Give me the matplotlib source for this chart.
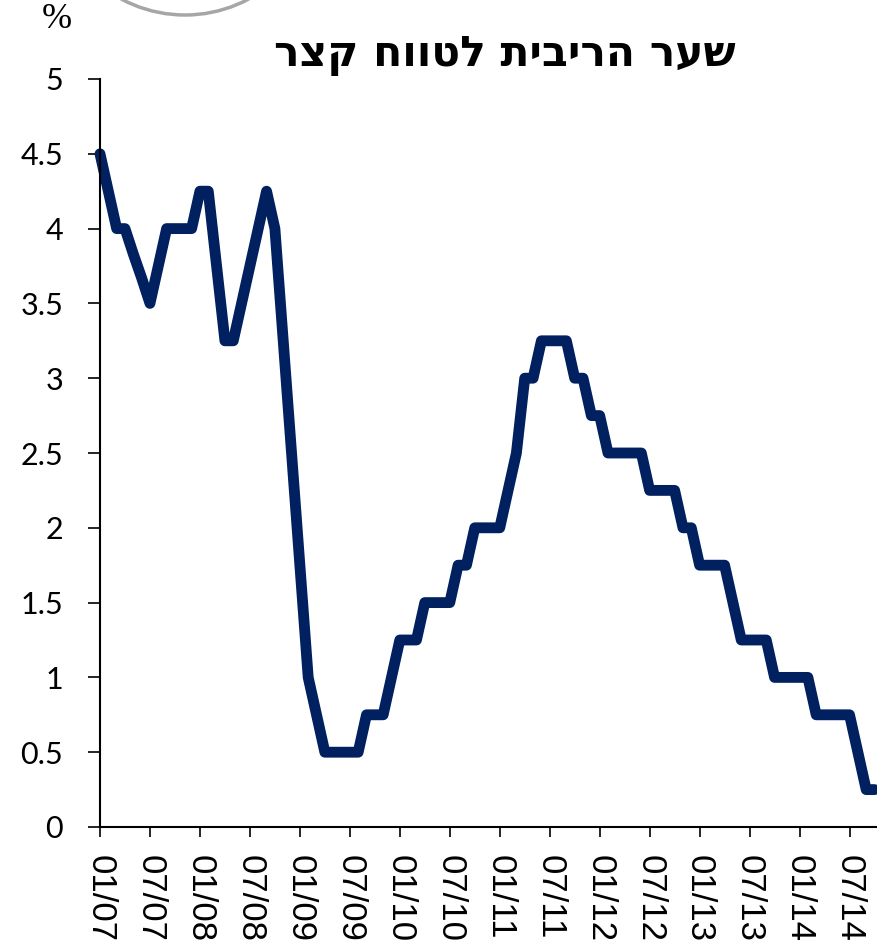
import matplotlib
matplotlib.use("Agg")
import matplotlib.pyplot as plt
from matplotlib.patches import Ellipse

# short term interest rate, monthly, 01/07 - 10/14
rates = [4.5, 4.25, 4.0, 4.0, 3.83, 3.67, 3.5, 3.75, 4.0, 4.0, 4.0, 4.0,
	4.25, 4.25, 3.75, 3.25, 3.25, 3.5, 3.75, 4.0, 4.25, 4.0, 3.25, 2.5,
	1.75, 1.0, 0.75, 0.5, 0.5, 0.5, 0.5, 0.5, 0.75, 0.75, 0.75, 1.0,
	1.25, 1.25, 1.25, 1.5, 1.5, 1.5, 1.5, 1.75, 1.75, 2.0, 2.0, 2.0,
	2.0, 2.25, 2.5, 3.0, 3.0, 3.25, 3.25, 3.25, 3.25, 3.0, 3.0, 2.75,
	2.75, 2.5, 2.5, 2.5, 2.5, 2.5, 2.25, 2.25, 2.25, 2.25, 2.0, 2.0,
	1.75, 1.75, 1.75, 1.75, 1.5, 1.25, 1.25, 1.25, 1.25, 1.0, 1.0, 1.0,
	1.0, 1.0, 0.75, 0.75, 0.75, 0.75, 0.75, 0.5, 0.25, 0.25]
tickLabels = ["01/07", "07/07", "01/08", "07/08", "01/09", "07/09", "01/10", "07/10",
	"01/11", "07/11", "01/12", "07/12", "01/13", "07/13", "01/14", "07/14"]
yTicks = [0, 0.5, 1, 1.5, 2, 2.5, 3, 3.5, 4, 4.5, 5]
title = "שער הריבית לטווח קצר"

W, H = 877, 943
fig = plt.figure(figsize=(W / 100.0, H / 100.0), dpi=100)
ax = fig.add_axes([100.0 / W, 1 - 827.0 / H, 1 - 100.0 / W, (827.0 - 79.0) / H])

ax.plot(range(len(rates)), rates, color="#002060", lw=7.8,
	solid_joinstyle="round", solid_capstyle="round", clip_on=False)

ax.set_xlim(0, 93.3)
ax.set_ylim(0, 5)
ax.set_xticks(range(0, 6 * len(tickLabels), 6))
ax.set_xticklabels(tickLabels, rotation=270, family="Liberation Sans", fontsize=25)
ax.set_yticks(yTicks)
ax.set_yticklabels([("%g" % v) for v in yTicks], family="Lato", fontsize=22)

for s in ["top", "right"]:
	ax.spines[s].set_visible(False)
ax.spines["left"].set_linewidth(1.5)
ax.spines["bottom"].set_linewidth(1.5)
ax.tick_params(axis="x", direction="out", length=7.2, width=1.2, pad=13)
ax.tick_params(axis="y", direction="out", length=8.6, width=1.2, pad=18)

# hebrew is drawn left to right by matplotlib, so reverse it
fig.text(505.0 / W, 1 - 55.0 / H, title[::-1], ha="center", va="center",
	family=["DejaVu Sans"], fontweight="bold", fontsize=30.5)
fig.text(57.0 / W, 1 - 19.0 / H, "%", ha="center", va="center",
	family="Liberation Serif", fontsize=26)

# grey ring of the logo cut off at the top
fig.add_artist(Ellipse((1.85, (H + 120.0) / 100.0), 2.7, 2.7, fill=False,
	edgecolor="#a6a6a6", lw=2.5, transform=fig.dpi_scale_trans))

fig.savefig("out.png", dpi=100)
